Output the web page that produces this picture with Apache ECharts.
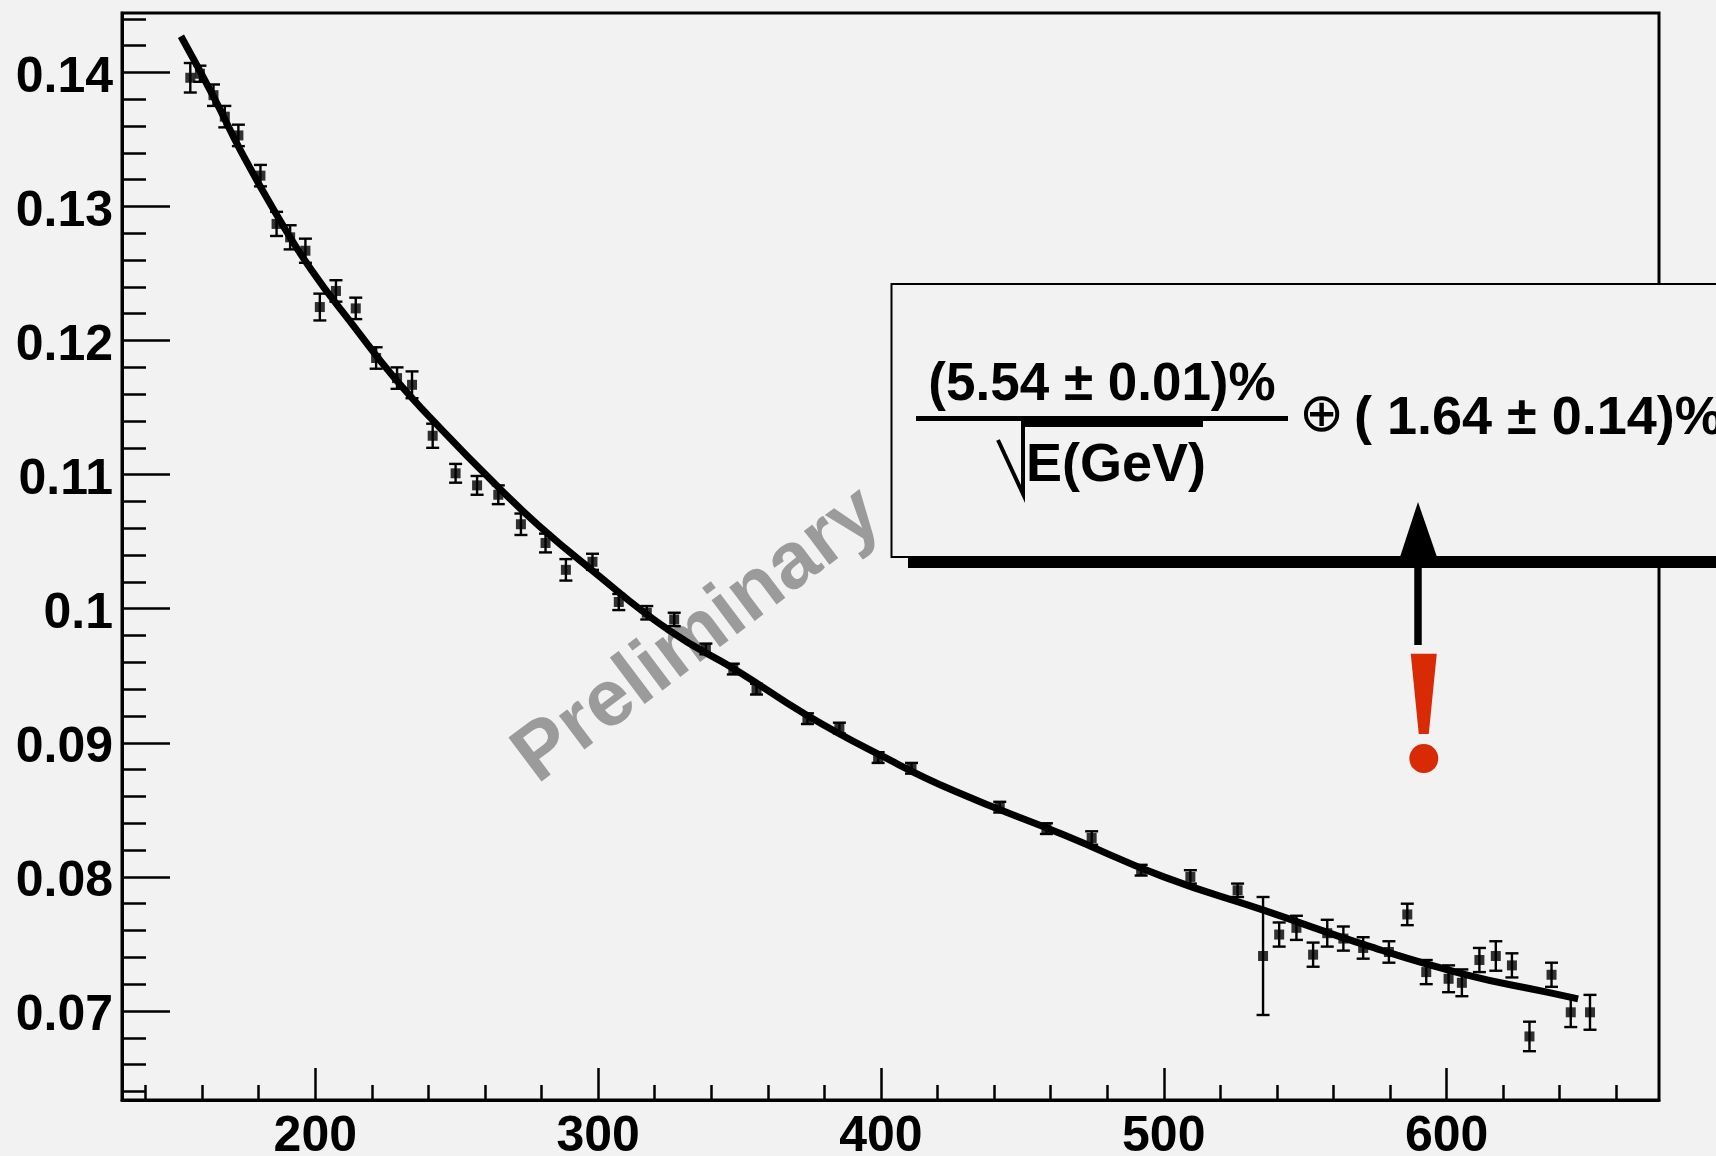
<!DOCTYPE html>
<html>
<head>
<meta charset="utf-8">
<title>Energy resolution</title>
<script src="https://cdn.jsdelivr.net/npm/echarts@6/dist/echarts.min.js"></script>
<style>
  html, body { margin: 0; padding: 0; background: #f2f2f2; }
  #chart { width: 1716px; height: 1156px; }
</style>
</head>
<body>
<div id="chart"></div>
<script>
const energy = [155.8, 159.2, 164.0, 168.0, 172.8, 180.6, 186.3, 191.1, 196.5, 201.6,
  207.3, 214.3, 221.5, 228.9, 234.2, 241.5, 249.6, 257.2, 264.7, 272.7,
  281.4, 288.6, 298.0, 307.3, 317.2, 326.9, 338.1, 347.8, 356.0, 374.0,
  385.3, 399.0, 410.8, 442.0, 458.5, 474.5, 492.0, 509.4, 526.1, 535.1,
  540.8, 546.9, 552.8, 557.8, 563.5, 570.5, 579.6, 586.1, 592.8, 600.7,
  605.4, 611.6, 617.4, 623.1, 629.3, 637.1, 643.9, 650.7];
const resolution = [0.1396, 0.1399, 0.1383, 0.1367, 0.1353, 0.1323, 0.1287, 0.1277, 0.1267, 0.1225,
  0.1237, 0.1224, 0.1187, 0.1172, 0.1167, 0.1129, 0.1101, 0.1092, 0.1085, 0.1063,
  0.1049, 0.1029, 0.1035, 0.1005, 0.0997, 0.0992, 0.0970, 0.0955, 0.0940, 0.0918,
  0.0911, 0.0889, 0.0881, 0.0852, 0.0836, 0.0829, 0.0805, 0.0800, 0.0790, 0.0741,
  0.0757, 0.0762, 0.0742, 0.0758, 0.0754, 0.0747, 0.0744, 0.0772, 0.0729, 0.0724,
  0.0721, 0.0738, 0.0741, 0.0734, 0.0681, 0.0727, 0.0699, 0.0699];
const errors = [0.0011, 0.0006, 0.0008, 0.0008, 0.0008, 0.0008, 0.0009, 0.0009, 0.0009, 0.0010,
  0.0008, 0.0008, 0.0008, 0.0008, 0.0010, 0.0009, 0.0007, 0.0007, 0.0007, 0.0008,
  0.0007, 0.0008, 0.0006, 0.0006, 0.0005, 0.0005, 0.0004, 0.0004, 0.0004, 0.0004,
  0.0004, 0.0004, 0.0004, 0.0004, 0.0004, 0.0005, 0.0004, 0.0005, 0.0005, 0.0044,
  0.0009, 0.0009, 0.0009, 0.0010, 0.0009, 0.0008, 0.0008, 0.0008, 0.0009, 0.0010,
  0.0010, 0.0009, 0.0011, 0.0009, 0.0011, 0.0009, 0.0011, 0.0013];

// fit curve
const fitX = [152.5, 164, 174, 186, 198.5, 213.5, 228, 244.5, 265.5, 279, 296.5, 325,
  349, 373.5, 400.5, 426, 465, 500, 535.5, 573, 607, 635.5, 646.5];
const fitY = [0.1427, 0.1382, 0.1340, 0.1295, 0.1253, 0.1211, 0.1172, 0.1134, 0.1089, 0.1062,
  0.1031, 0.0984, 0.0954, 0.0921, 0.0890, 0.0864, 0.0831, 0.0800, 0.0775, 0.0748,
  0.0727, 0.0714, 0.0709];

// axes
const xMin = 131.65, xMax = 675.1;
const yMin = 0.06336, yMax = 0.14443;
const xLabels = [200, 300, 400, 500, 600];
const yLabels = [0.07, 0.08, 0.09, 0.1, 0.11, 0.12, 0.13, 0.14];

// minor ticks (ROOT style: 5 divisions)
const xMinor = [];
for (let v = 140; v <= 660; v += 20) if (v % 100 !== 0) xMinor.push(v);
const yMinor = [];
for (let k = 32; k <= 72; k++) if (k % 5 !== 0) yMinor.push(+(k * 0.002).toFixed(3));

const font = 'Liberation Sans';
const chart = echarts.init(document.getElementById('chart'));

const points = energy.map((e, i) => [e, resolution[i]]);
const bars = energy.map((e, i) => [e, resolution[i] - errors[i], resolution[i] + errors[i]]);
const fit = fitX.map((x, i) => [x, fitY[i]]);

const labelStyle = { fontSize: 50, fontWeight: 'bold', fontFamily: font, color: '#000' };

const option = {
  backgroundColor: '#f2f2f2',
  animation: false,
  grid: {
    left: 122, right: 57, top: 13, bottom: 56,
    show: true, borderColor: '#000', borderWidth: 3,
    backgroundColor: 'transparent',
    outerBoundsMode: 'none'
  },
  xAxis: [
    {
      type: 'value', min: xMin, max: xMax, position: 'bottom',
      axisLine: { lineStyle: { color: '#000', width: 3 } },
      axisTick: { inside: true, length: 32, lineStyle: { color: '#000', width: 2.5 }, customValues: xLabels },
      axisLabel: Object.assign({ customValues: xLabels, margin: 12 }, labelStyle),
      splitLine: { show: false }
    },
    {
      type: 'value', min: xMin, max: xMax, position: 'bottom', offset: 0,
      axisLine: { show: false },
      axisTick: { inside: true, length: 15, lineStyle: { color: '#000', width: 2.5 }, customValues: xMinor },
      axisLabel: { show: false },
      splitLine: { show: false }
    }
  ],
  yAxis: [
    {
      type: 'value', min: yMin, max: yMax, position: 'left',
      axisLine: { show: true, lineStyle: { color: '#000', width: 3 } },
      axisTick: { inside: true, length: 48, lineStyle: { color: '#000', width: 2.5 }, customValues: yLabels },
      // labels sit a few px below their tick, as in the original
      axisLabel: Object.assign({ customValues: yLabels, margin: 9, verticalAlign: 'top', lineHeight: 11 }, labelStyle),
      splitLine: { show: false }
    },
    {
      type: 'value', min: yMin, max: yMax, position: 'left', offset: 0,
      axisLine: { show: false },
      axisTick: { show: true, inside: true, length: 24, lineStyle: { color: '#000', width: 2.5 }, customValues: yMinor },
      axisLabel: { show: false },
      splitLine: { show: false }
    }
  ],
  series: [
    {
      type: 'custom',
      data: bars,
      encode: { x: 0, y: [1, 2] },
      z: 3,
      renderItem: function (params, api) {
        const x = api.value(0);
        const lo = api.coord([x, api.value(1)]);
        const hi = api.coord([x, api.value(2)]);
        const cap = 6.5;
        const st = { stroke: '#000', lineWidth: 2.4 };
        return {
          type: 'group',
          children: [
            { type: 'line', shape: { x1: lo[0], y1: lo[1], x2: hi[0], y2: hi[1] }, style: st },
            { type: 'line', shape: { x1: lo[0] - cap, y1: lo[1], x2: lo[0] + cap, y2: lo[1] }, style: st },
            { type: 'line', shape: { x1: hi[0] - cap, y1: hi[1], x2: hi[0] + cap, y2: hi[1] }, style: st }
          ]
        };
      }
    },
    {
      type: 'scatter',
      data: points,
      symbol: 'rect',
      symbolSize: 10,
      itemStyle: { color: '#000' },
      z: 4
    },
    {
      type: 'line',
      data: fit,
      showSymbol: false,
      smooth: true,
      lineStyle: { color: '#000', width: 7 },
      z: 5
    }
  ],
  graphic: [
    // watermark
    {
      type: 'text', x: 698, y: 636, rotation: 37 * Math.PI / 180, z: 1,
      style: { text: 'Preliminary', font: 'bold 80px "Liberation Sans"', fill: '#9b9b9b',
        align: 'center', verticalAlign: 'middle', textAlign: 'center', textVerticalAlign: 'middle' }
    },
    // fit result box with shadow
    { type: 'rect', z: 100, shape: { x: 908, y: 557, width: 900, height: 11 }, style: { fill: '#000' } },
    { type: 'rect', z: 101, shape: { x: 891.5, y: 284, width: 900, height: 273 },
      style: { fill: '#f2f2f2', stroke: '#000', lineWidth: 2 } },
    { type: 'rect', z: 102, shape: { x: 916, y: 416, width: 372, height: 5 }, style: { fill: '#000' } },
    { type: 'rect', z: 102, shape: { x: 1022, y: 421, width: 181, height: 6 }, style: { fill: '#000' } },
    { type: 'polyline', z: 102, shape: { points: [[998, 440], [1023, 494], [1023, 421]] },
      style: { stroke: '#000', lineWidth: 4, fill: null } },
    {
      type: 'text', x: 1102, y: 385, z: 102,
      style: { text: '(5.54 \u00b1 0.01)%', font: 'bold 53px "Liberation Sans"', fill: '#000',
        align: 'center', verticalAlign: 'middle', textAlign: 'center', textVerticalAlign: 'middle' }
    },
    {
      type: 'text', x: 1116, y: 466, z: 102,
      style: { text: 'E(GeV)', font: 'bold 54px "Liberation Sans"', fill: '#000',
        align: 'center', verticalAlign: 'middle', textAlign: 'center', textVerticalAlign: 'middle' }
    },
    {
      type: 'text', x: 1321.5, y: 417, z: 102,
      style: { text: '\u2295', font: '54px "DejaVu Sans"', fill: '#000',
        align: 'center', verticalAlign: 'middle', textAlign: 'center', textVerticalAlign: 'middle' }
    },
    {
      type: 'text', x: 1354, y: 419, z: 102,
      style: { text: '( 1.64 \u00b1 0.14)%', font: 'bold 54px "Liberation Sans"', fill: '#000',
        align: 'left', verticalAlign: 'middle', textAlign: 'left', textVerticalAlign: 'middle' }
    },
    // arrow and exclamation mark
    { type: 'line', z: 103, shape: { x1: 1418, y1: 550, x2: 1418, y2: 645 },
      style: { stroke: '#000', lineWidth: 7.5 } },
    { type: 'polygon', z: 103, shape: { points: [[1418, 502], [1400, 557], [1437, 557]] },
      style: { fill: '#000' } },
    {
      type: 'text', x: 1424, y: 724, z: 103,
      style: { text: '!', font: 'bold 178px "Liberation Serif"', fill: '#d82a05',
        align: 'center', verticalAlign: 'middle', textAlign: 'center', textVerticalAlign: 'middle' }
    }
  ]
};

chart.setOption(option);
</script>
</body>
</html>
